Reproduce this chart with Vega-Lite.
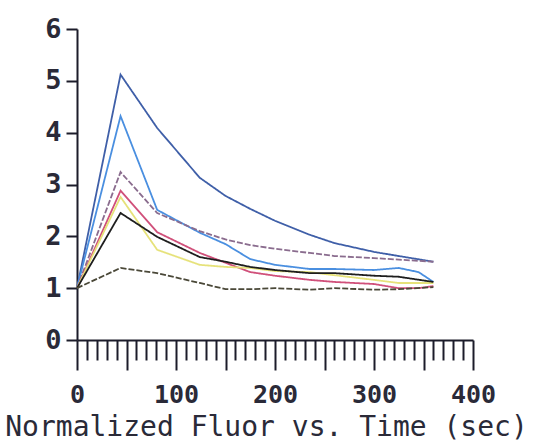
{
  "$schema": "https://vega.github.io/schema/vega-lite/v6.json",
  "autosize": "none",
  "width": 396,
  "height": 311,
  "padding": {"left": 77, "top": 29, "right": 61, "bottom": 104},
  "background": "white",
  "config": {"view": {"stroke": null}},
  "data": {"values": [
    {"s":"A","t":0,"v":1.0},{"s":"A","t":44,"v":5.12},{"s":"A","t":81,"v":4.09},{"s":"A","t":124,"v":3.13},{"s":"A","t":150,"v":2.78},{"s":"A","t":175,"v":2.53},{"s":"A","t":200,"v":2.30},{"s":"A","t":235,"v":2.03},{"s":"A","t":260,"v":1.87},{"s":"A","t":300,"v":1.70},{"s":"A","t":325,"v":1.62},{"s":"A","t":360,"v":1.51},
    {"s":"B","t":0,"v":1.0},{"s":"B","t":44,"v":4.32},{"s":"B","t":81,"v":2.51},{"s":"B","t":124,"v":2.07},{"s":"B","t":150,"v":1.85},{"s":"B","t":175,"v":1.56},{"s":"B","t":200,"v":1.45},{"s":"B","t":235,"v":1.37},{"s":"B","t":260,"v":1.37},{"s":"B","t":300,"v":1.35},{"s":"B","t":325,"v":1.39},{"s":"B","t":345,"v":1.31},{"s":"B","t":360,"v":1.12},
    {"s":"C","t":0,"v":1.0},{"s":"C","t":44,"v":3.24},{"s":"C","t":81,"v":2.45},{"s":"C","t":124,"v":2.10},{"s":"C","t":150,"v":1.94},{"s":"C","t":175,"v":1.83},{"s":"C","t":200,"v":1.76},{"s":"C","t":235,"v":1.68},{"s":"C","t":260,"v":1.62},{"s":"C","t":300,"v":1.58},{"s":"C","t":325,"v":1.55},{"s":"C","t":360,"v":1.51},
    {"s":"D","t":0,"v":1.0},{"s":"D","t":44,"v":2.88},{"s":"D","t":81,"v":2.08},{"s":"D","t":124,"v":1.68},{"s":"D","t":150,"v":1.49},{"s":"D","t":175,"v":1.31},{"s":"D","t":200,"v":1.24},{"s":"D","t":235,"v":1.16},{"s":"D","t":260,"v":1.12},{"s":"D","t":300,"v":1.08},{"s":"D","t":325,"v":1.0},{"s":"D","t":345,"v":1.0},{"s":"D","t":360,"v":1.04},
    {"s":"E","t":0,"v":1.0},{"s":"E","t":44,"v":2.76},{"s":"E","t":81,"v":1.74},{"s":"E","t":124,"v":1.45},{"s":"E","t":150,"v":1.41},{"s":"E","t":175,"v":1.39},{"s":"E","t":200,"v":1.33},{"s":"E","t":235,"v":1.31},{"s":"E","t":260,"v":1.25},{"s":"E","t":300,"v":1.16},{"s":"E","t":325,"v":1.10},{"s":"E","t":360,"v":1.10},
    {"s":"F","t":0,"v":1.0},{"s":"F","t":44,"v":2.45},{"s":"F","t":81,"v":1.99},{"s":"F","t":124,"v":1.60},{"s":"F","t":150,"v":1.51},{"s":"F","t":175,"v":1.41},{"s":"F","t":200,"v":1.35},{"s":"F","t":235,"v":1.29},{"s":"F","t":260,"v":1.29},{"s":"F","t":300,"v":1.24},{"s":"F","t":325,"v":1.22},{"s":"F","t":360,"v":1.12},
    {"s":"G","t":0,"v":1.0},{"s":"G","t":44,"v":1.39},{"s":"G","t":81,"v":1.29},{"s":"G","t":124,"v":1.10},{"s":"G","t":150,"v":0.98},{"s":"G","t":175,"v":0.98},{"s":"G","t":200,"v":1.0},{"s":"G","t":235,"v":0.97},{"s":"G","t":260,"v":1.0},{"s":"G","t":300,"v":0.97},{"s":"G","t":325,"v":0.98},{"s":"G","t":360,"v":1.02}
  ]},
  "mark": {"type": "line", "strokeWidth": 1.8},
  "encoding": {
    "x": {
      "field": "t", "type": "quantitative",
      "scale": {"domain": [0, 400], "nice": false, "zero": true},
      "axis": {
        "values": [0,10,20,30,40,50,60,70,80,90,100,110,120,130,140,150,160,170,180,190,200,210,220,230,240,250,260,270,280,290,300,310,320,330,340,350,360,370,380,390,400],
        "labelExpr": "datum.value % 100 === 0 ? datum.label : ''",
        "labelOverlap": false,
        "labelFlush": false,
        "labelBound": false,
        "grid": false,
        "tickSize": {"condition": {"test": "datum.value % 50 === 0", "value": 30}, "value": 20},
        "tickWidth": 2,
        "tickColor": "#1c1c2a",
        "domainColor": "#1c1c2a",
        "domainWidth": 2,
        "labelFont": "DejaVu Sans Mono",
        "labelFontSize": 25,
        "labelFontWeight": "bold",
        "labelColor": "#2a2a38",
        "labelPadding": 12,
        "title": "Normalized Fluor vs. Time (sec)",
        "titleFont": "DejaVu Sans Mono",
        "titleFontSize": 28,
        "titleFontWeight": "normal",
        "titleColor": "#2a2a38",
        "titleBaseline": "alphabetic",
        "titleX": 189,
        "titleY": 95
      }
    },
    "y": {
      "field": "v", "type": "quantitative",
      "scale": {"domain": [0, 6], "nice": false},
      "axis": {
        "values": [0,1,2,3,4,5,6],
        "grid": false,
        "tickSize": 11,
        "tickWidth": 2,
        "tickColor": "#1c1c2a",
        "domainColor": "#1c1c2a",
        "domainWidth": 2,
        "labelFont": "DejaVu Sans Mono",
        "labelFontSize": 27,
        "labelFontWeight": "bold",
        "labelColor": "#2a2a38",
        "labelPadding": 5,
        "title": null
      }
    },
    "color": {
      "field": "s", "type": "nominal", "legend": null,
      "scale": {"domain": ["A","B","C","D","E","F","G"], "range": ["#3f5fa8","#4a8fe0","#8a6c8e","#d0507a","#e6e27a","#1e1e1e","#4a4838"]}
    },
    "strokeDash": {
      "field": "s", "type": "nominal", "legend": null,
      "scale": {"domain": ["A","B","C","D","E","F","G"], "range": [[1,0],[1,0],[6,2],[1,0],[1,0],[1,0],[6,2]]}
    },
    "order": {"field": "t", "type": "quantitative"}
  }
}
